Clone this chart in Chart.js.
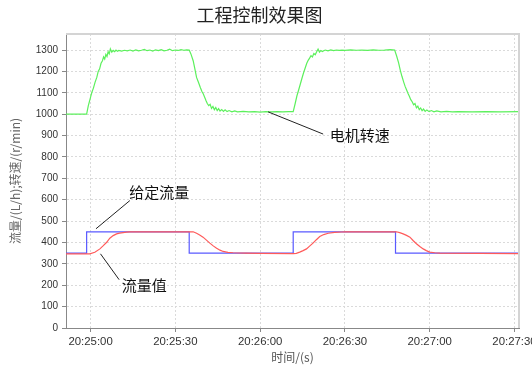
<!DOCTYPE html>
<html>
<head>
<meta charset="utf-8">
<script src="https://cdn.jsdelivr.net/npm/chart.js@4.4.1/dist/chart.umd.min.js"></script>
<style>
  html, body { margin: 0; padding: 0; background: #fff; overflow: hidden; }
  #wrap { width: 532px; height: 367px; }
</style>
</head>
<body>
<div id="wrap"><canvas id="chart" width="532" height="367"></canvas></div>
<script>
// seconds after 20:25:00
const xTickValues = [0, 30, 60, 90, 120, 150];
const xTickLabels = ["20:25:00", "20:25:30", "20:26:00", "20:26:30", "20:27:00", "20:27:30"];
const yTickValues = [0, 100, 200, 300, 400, 500, 600, 700, 800, 900, 1000, 1100, 1200, 1300];

// 电机转速
const speedTimes = [-8.7, -1.4, -0.8, 0, 0.4, 1, 1.6, 2.2, 2.7, 3.2, 3.7, 4.2, 4.6, 5.0, 5.4, 5.8, 6.2, 6.6, 7.0, 7.5,
  8, 8.5, 9, 9.5, 10, 11, 12, 13, 14, 15, 16, 17, 18, 19, 20, 21, 22, 23, 24, 25, 26, 27, 28, 29, 30, 31, 32, 33, 34, 34.9,
  35.5, 36.3, 36.9, 37.5, 38.2, 38.8, 39.4, 39.9, 40.4, 40.9, 41.3, 41.8, 42.3, 42.8, 43.3, 43.8, 44.3, 44.8, 45.3, 45.8,
  46.4, 47, 47.6, 48.3, 49, 50, 51, 52, 54, 56, 58, 60, 62, 64, 66, 68, 70, 71.7,
  72.4, 73, 73.6, 74.2, 74.8, 75.4, 76, 76.5, 77, 77.5, 78, 78.5, 79, 79.5, 80, 80.5, 81, 81.5, 82, 83, 84, 85, 86, 87, 88,
  89, 90, 92, 94, 96, 98, 100, 102, 104, 106, 107.6,
  108.3, 109, 109.6, 110.2, 110.8, 111.3, 111.8, 112.3, 112.8, 113.3, 113.8, 114.3, 114.8, 115.3, 115.8, 116.3, 116.8,
  117.3, 117.8, 118.4, 119, 119.8, 120.6, 121.5, 122.5, 124, 126, 128, 130, 135, 140, 145, 151.6];
const speedValues = [1000, 1000, 1040, 1080, 1100, 1122, 1150, 1172, 1200, 1212, 1238, 1250, 1268, 1258, 1280, 1270, 1292, 1282, 1305, 1290,
  1298, 1292, 1300, 1294, 1298, 1295, 1299, 1296, 1300, 1295, 1301, 1296, 1299, 1303, 1297, 1300, 1295, 1301, 1297, 1302, 1296, 1299, 1304, 1297, 1300, 1298, 1302, 1299, 1301, 1300,
  1282, 1250, 1212, 1172, 1148, 1126, 1106, 1094, 1078, 1062, 1050, 1040, 1046, 1027, 1036, 1021, 1031, 1017, 1026, 1015,
  1022, 1013, 1020, 1012, 1017, 1011, 1015, 1011, 1013, 1011, 1012, 1010, 1012, 1011, 1012, 1011, 1012, 1012,
  1050, 1085, 1112, 1140, 1168, 1195, 1218, 1238, 1252, 1262, 1274, 1268, 1284, 1278, 1292, 1304, 1290, 1298, 1293, 1300, 1296, 1301, 1297, 1300, 1298,
  1300, 1298, 1301, 1299, 1300, 1298, 1301, 1299, 1300, 1302, 1300,
  1272, 1240, 1205, 1176, 1150, 1130, 1114, 1098, 1084, 1068, 1058, 1044, 1050, 1030, 1038, 1021, 1029,
  1016, 1024, 1013, 1020, 1012, 1017, 1011, 1015, 1011, 1013, 1011, 1012, 1011, 1012, 1011, 1012];

// 给定流量
const setTimes = [-8.7, -1.4, -1.4, 34.9, 34.9, 71.7, 71.7, 107.9, 107.9, 151.6];
const setValues = [350, 350, 450, 450, 350, 350, 450, 450, 350, 350];

// 流量值
const flowTimes = [-8.7, -0.3, 1.5, 3.3, 4.5, 5.7, 6.8, 8, 9.2, 10.3, 11.5, 12.7, 13.9, 36.3, 37.5, 38.6, 39.8, 41, 42.2,
  43.4, 44.6, 45.8, 46.9, 48.6, 50.4, 55, 60, 71.7, 72.8, 74, 75.2, 76.4, 77.5, 78.7, 79.9, 81.1, 82.5, 84.1, 86.4, 88.8,
  90, 108.2, 109.4, 110.6, 111.8, 113, 114.2, 115.3, 116.5, 117.7, 118.8, 120, 121.8, 123.6, 151.6];
const flowValues = [347, 347, 354, 370, 385, 401, 420, 432, 440, 444, 446, 448, 450, 450, 443, 435, 425, 411, 397,
  384, 373, 364, 358, 354, 352, 350, 349, 348, 349, 355, 362, 370, 383, 397, 413, 428, 437, 443, 447, 449,
  450, 450, 446, 440, 433, 425, 408, 394, 381, 370, 362, 355, 352, 350, 348];

// callouts: [text, from x, from y, to x, to y, text x, text y] in data units
const callouts = [
  ["电机转速", 62.8, 1011, 82.3, 907, 84.6, 899],
  ["给定流量", 1.9, 464, 13.9, 596, 13.7, 634],
  ["流量值", 3.5, 347, 10.1, 226, 11.0, 199]
];

function toPoints(xs, ys) {
  return xs.map((x, i) => ({ x: x, y: ys[i] }));
}

const plotFrame = {
  id: "plotFrame",
  afterDatasetsDraw(chart) {
    const ctx = chart.ctx;
    const a = chart.chartArea;
    const xs = chart.scales.x;
    const ys = chart.scales.y;
    ctx.save();
    ctx.strokeStyle = "#d4d4d4";
    ctx.lineWidth = 2;
    ctx.beginPath();
    ctx.moveTo(a.left, a.top);
    ctx.lineTo(a.right, a.top);
    ctx.lineTo(a.right, a.bottom);
    ctx.stroke();

    ctx.strokeStyle = "#222";
    ctx.lineWidth = 1;
    ctx.fillStyle = "#111";
    ctx.font = "15px 'Noto Sans CJK SC'";
    ctx.textBaseline = "middle";
    ctx.textAlign = "left";
    callouts.forEach((c) => {
      ctx.beginPath();
      ctx.moveTo(xs.getPixelForValue(c[1]), ys.getPixelForValue(c[2]));
      ctx.lineTo(xs.getPixelForValue(c[3]), ys.getPixelForValue(c[4]));
      ctx.stroke();
      ctx.fillText(c[0], xs.getPixelForValue(c[5]), ys.getPixelForValue(c[6]));
    });
    ctx.restore();
  }
};

const ctx = document.getElementById("chart").getContext("2d");
new Chart(ctx, {
  type: "line",
  data: {
    datasets: [
      { label: "流量值", data: toPoints(flowTimes, flowValues), borderColor: "#ff5a5a", borderWidth: 1.2 },
      { label: "给定流量", data: toPoints(setTimes, setValues), borderColor: "#5a5aff", borderWidth: 1.2 },
      { label: "电机转速", data: toPoints(speedTimes, speedValues), borderColor: "#5cf05c", borderWidth: 1.2 }
    ]
  },
  options: {
    responsive: false,
    animation: false,
    layout: { padding: { top: 0, right: 13, bottom: 0, left: 0 } },
    elements: { point: { radius: 0 }, line: { tension: 0, fill: false } },
    plugins: {
      legend: { display: false },
      tooltip: { enabled: false },
      title: {
        display: true,
        text: "工程控制效果图",
        color: "#222",
        font: { family: "'Noto Sans CJK SC'", size: 18, weight: "normal" },
        padding: { top: 4, bottom: 8.4 }
      }
    },
    scales: {
      x: {
        type: "linear",
        min: -8.7,
        max: 151.6,
        afterBuildTicks(scale) {
          scale.ticks = xTickValues.map((v) => ({ value: v }));
        },
        afterFit(scale) {
          scale.height = 39;
          scale.paddingLeft = 0;
          scale.paddingRight = 0;
        },
        ticks: {
          maxRotation: 0,
          autoSkip: false,
          padding: 3,
          color: "#333",
          font: { family: "'Liberation Sans', Arial", size: 11.4 },
          callback: (v) => xTickLabels[xTickValues.indexOf(v)]
        },
        grid: { color: "#dadada", tickColor: "#888", tickLength: 4 },
        border: { display: true, color: "#888", dash: [2, 2] },
        title: {
          display: true,
          text: "时间/(s)",
          color: "#555",
          font: { family: "'Noto Sans CJK SC'", size: 12 },
          padding: { top: 0, bottom: 2 }
        }
      },
      y: {
        min: 0,
        max: 1375,
        afterBuildTicks(scale) {
          scale.ticks = yTickValues.map((v) => ({ value: v }));
        },
        afterFit(scale) {
          scale.width = 66;
          scale.paddingTop = 0;
          scale.paddingBottom = 0;
        },
        ticks: {
          padding: 4,
          color: "#333",
          font: { family: "'Liberation Sans', Arial", size: 10 },
          callback: (v) => String(v)
        },
        grid: { color: "#dadada", tickColor: "#888", tickLength: 4 },
        border: { display: true, color: "#888", dash: [2, 2] },
        title: {
          display: true,
          text: "流量/(L/h);转速/(r/min)",
          color: "#666",
          font: { family: "'Noto Sans CJK SC'", size: 12 },
          padding: { top: 8, bottom: 0 }
        }
      }
    }
  },
  plugins: [plotFrame]
});
</script>
</body>
</html>
